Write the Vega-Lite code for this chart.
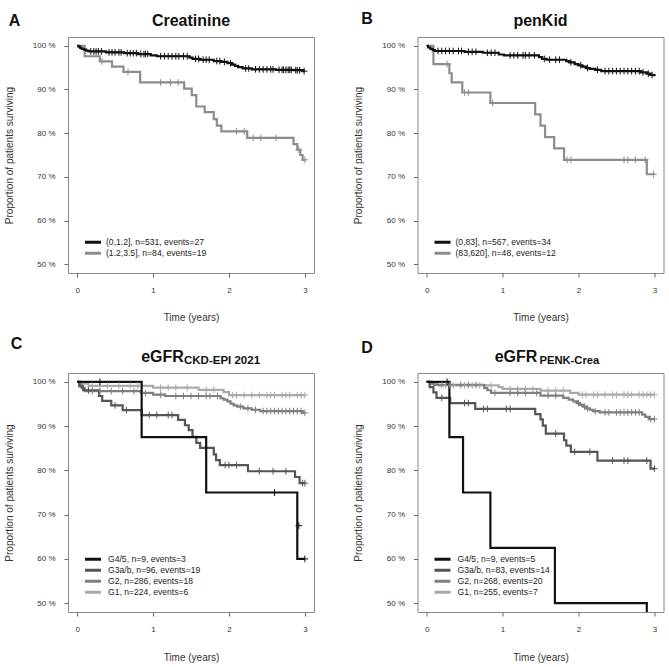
{
"$schema":"https://vega.github.io/schema/vega-lite/v6.json",
"background":"white",
"padding":{"left":3,"top":10,"right":2,"bottom":2},
"config":{
"font":"Liberation Sans",
"view":{"stroke":"#888888","strokeWidth":1},
"axis":{"grid":false,"domain":false,"tickSize":4,"tickColor":"#666666","tickWidth":1,"labelFont":"Liberation Sans","labelFontSize":8,"labelColor":"#333333","labelPadding":9,"titleFont":"Liberation Sans","titleFontSize":10,"titleFontWeight":"normal","titleColor":"#333333","titlePadding":18},
"legend":{"orient":"bottom-left","offset":14,"padding":0,"symbolType":"M-2.5,0H2.5","symbolSize":41,"symbolStrokeWidth":3,"labelFont":"Liberation Sans","labelFontSize":8.6,"labelColor":"#222222","rowPadding":0,"clipHeight":10.3,"labelOffset":8,"symbolOffset":6},
"title":{"font":"Liberation Sans","fontSize":16,"fontWeight":"bold","color":"#111111","baseline":"top"}
},
"datasets":{
"groups":[
{"g":"A1","lab":"(0,1.2], n=531, events=27"},{"g":"A2","lab":"(1.2,3.5], n=84, events=19"},
{"g":"B1","lab":"(0,83], n=567, events=34"},{"g":"B2","lab":"(83,620], n=48, events=12"},
{"g":"C1","lab":"G4/5, n=9, events=3"},{"g":"C2","lab":"G3a/b, n=96, events=19"},{"g":"C3","lab":"G2, n=286, events=18"},{"g":"C4","lab":"G1, n=224, events=6"},
{"g":"D1","lab":"G4/5, n=9, events=5"},{"g":"D2","lab":"G3a/b, n=83, events=14"},{"g":"D3","lab":"G2, n=268, events=20"},{"g":"D4","lab":"G1, n=255, events=7"}
],
"km":[
{"g":"A2","t":0,"s":1},{"g":"A2","t":0.1,"s":0.976},{"g":"A2","t":0.3,"s":0.964},{"g":"A2","t":0.46,"s":0.952},{"g":"A2","t":0.61,"s":0.94},{"g":"A2","t":0.83,"s":0.916},{"g":"A2","t":1.41,"s":0.902},{"g":"A2","t":1.51,"s":0.887},{"g":"A2","t":1.57,"s":0.861},{"g":"A2","t":1.68,"s":0.848},{"g":"A2","t":1.8,"s":0.832},{"g":"A2","t":1.84,"s":0.817},{"g":"A2","t":1.9,"s":0.804},{"g":"A2","t":2.24,"s":0.789},{"g":"A2","t":2.85,"s":0.775},{"g":"A2","t":2.9,"s":0.762},{"g":"A2","t":2.94,"s":0.75},{"g":"A2","t":2.97,"s":0.739},{"g":"A2","t":3.0,"s":0.739},
{"g":"A1","t":0,"s":1},{"g":"A1","t":0.02,"s":0.998},{"g":"A1","t":0.04,"s":0.995},{"g":"A1","t":0.06,"s":0.993},{"g":"A1","t":0.09,"s":0.991},{"g":"A1","t":0.12,"s":0.989},{"g":"A1","t":0.15,"s":0.987},{"g":"A1","t":0.38,"s":0.985},{"g":"A1","t":0.62,"s":0.983},{"g":"A1","t":0.8,"s":0.981},{"g":"A1","t":0.97,"s":0.978},{"g":"A1","t":1.05,"s":0.976},{"g":"A1","t":1.48,"s":0.973},{"g":"A1","t":1.52,"s":0.97},{"g":"A1","t":1.62,"s":0.968},{"g":"A1","t":1.8,"s":0.965},{"g":"A1","t":1.9,"s":0.963},{"g":"A1","t":1.98,"s":0.96},{"g":"A1","t":2.04,"s":0.957},{"g":"A1","t":2.08,"s":0.954},{"g":"A1","t":2.12,"s":0.951},{"g":"A1","t":2.18,"s":0.948},{"g":"A1","t":2.3,"s":0.946},{"g":"A1","t":2.62,"s":0.945},{"g":"A1","t":2.85,"s":0.944},{"g":"A1","t":2.97,"s":0.942},{"g":"A1","t":3.0,"s":0.942},
{"g":"B2","t":0,"s":1},{"g":"B2","t":0.09,"s":0.958},{"g":"B2","t":0.3,"s":0.937},{"g":"B2","t":0.33,"s":0.916},{"g":"B2","t":0.47,"s":0.893},{"g":"B2","t":0.84,"s":0.869},{"g":"B2","t":1.43,"s":0.843},{"g":"B2","t":1.5,"s":0.817},{"g":"B2","t":1.56,"s":0.791},{"g":"B2","t":1.68,"s":0.765},{"g":"B2","t":1.81,"s":0.739},{"g":"B2","t":2.9,"s":0.706},{"g":"B2","t":3.0,"s":0.706},
{"g":"B1","t":0,"s":1},{"g":"B1","t":0.02,"s":0.996},{"g":"B1","t":0.05,"s":0.993},{"g":"B1","t":0.08,"s":0.99},{"g":"B1","t":0.11,"s":0.988},{"g":"B1","t":0.5,"s":0.986},{"g":"B1","t":0.74,"s":0.984},{"g":"B1","t":0.95,"s":0.98},{"g":"B1","t":1.02,"s":0.978},{"g":"B1","t":1.48,"s":0.974},{"g":"B1","t":1.52,"s":0.97},{"g":"B1","t":1.58,"s":0.968},{"g":"B1","t":1.84,"s":0.965},{"g":"B1","t":1.88,"s":0.962},{"g":"B1","t":1.95,"s":0.958},{"g":"B1","t":2.0,"s":0.955},{"g":"B1","t":2.05,"s":0.952},{"g":"B1","t":2.1,"s":0.949},{"g":"B1","t":2.15,"s":0.947},{"g":"B1","t":2.22,"s":0.945},{"g":"B1","t":2.3,"s":0.942},{"g":"B1","t":2.82,"s":0.939},{"g":"B1","t":2.9,"s":0.936},{"g":"B1","t":2.95,"s":0.933},{"g":"B1","t":3.0,"s":0.93},
{"g":"C4","t":0,"s":1},{"g":"C4","t":0.05,"s":0.996},{"g":"C4","t":0.15,"s":0.991},{"g":"C4","t":1.0,"s":0.987},{"g":"C4","t":1.6,"s":0.982},{"g":"C4","t":1.93,"s":0.977},{"g":"C4","t":2.0,"s":0.97},{"g":"C4","t":3.0,"s":0.97},
{"g":"C3","t":0,"s":1},{"g":"C3","t":0.03,"s":0.993},{"g":"C3","t":0.06,"s":0.986},{"g":"C3","t":0.1,"s":0.979},{"g":"C3","t":0.84,"s":0.975},{"g":"C3","t":1.0,"s":0.971},{"g":"C3","t":1.16,"s":0.968},{"g":"C3","t":1.89,"s":0.963},{"g":"C3","t":1.93,"s":0.96},{"g":"C3","t":1.98,"s":0.956},{"g":"C3","t":2.02,"s":0.951},{"g":"C3","t":2.06,"s":0.947},{"g":"C3","t":2.11,"s":0.944},{"g":"C3","t":2.19,"s":0.94},{"g":"C3","t":2.3,"s":0.937},{"g":"C3","t":2.41,"s":0.934},{"g":"C3","t":2.97,"s":0.93},{"g":"C3","t":3.0,"s":0.93},
{"g":"C2","t":0,"s":1},{"g":"C2","t":0.03,"s":0.99},{"g":"C2","t":0.08,"s":0.981},{"g":"C2","t":0.29,"s":0.968},{"g":"C2","t":0.33,"s":0.957},{"g":"C2","t":0.45,"s":0.947},{"g":"C2","t":0.6,"s":0.936},{"g":"C2","t":0.85,"s":0.925},{"g":"C2","t":1.33,"s":0.914},{"g":"C2","t":1.42,"s":0.902},{"g":"C2","t":1.47,"s":0.891},{"g":"C2","t":1.52,"s":0.876},{"g":"C2","t":1.57,"s":0.862},{"g":"C2","t":1.62,"s":0.851},{"g":"C2","t":1.8,"s":0.836},{"g":"C2","t":1.83,"s":0.823},{"g":"C2","t":1.88,"s":0.812},{"g":"C2","t":2.25,"s":0.798},{"g":"C2","t":2.87,"s":0.785},{"g":"C2","t":2.93,"s":0.771},{"g":"C2","t":3.0,"s":0.771},
{"g":"C1","t":0,"s":1},{"g":"C1","t":0.85,"s":0.875},{"g":"C1","t":1.7,"s":0.75},{"g":"C1","t":2.9,"s":0.6},{"g":"C1","t":3.0,"s":0.6},
{"g":"D4","t":0,"s":1},{"g":"D4","t":0.04,"s":0.996},{"g":"D4","t":0.15,"s":0.992},{"g":"D4","t":0.95,"s":0.988},{"g":"D4","t":1.0,"s":0.984},{"g":"D4","t":1.5,"s":0.98},{"g":"D4","t":1.89,"s":0.975},{"g":"D4","t":2.0,"s":0.971},{"g":"D4","t":3.0,"s":0.971},
{"g":"D3","t":0,"s":1},{"g":"D3","t":0.05,"s":0.996},{"g":"D3","t":0.1,"s":0.993},{"g":"D3","t":0.76,"s":0.986},{"g":"D3","t":0.8,"s":0.981},{"g":"D3","t":0.85,"s":0.975},{"g":"D3","t":1.5,"s":0.969},{"g":"D3","t":1.8,"s":0.964},{"g":"D3","t":1.87,"s":0.96},{"g":"D3","t":1.93,"s":0.956},{"g":"D3","t":1.98,"s":0.952},{"g":"D3","t":2.02,"s":0.948},{"g":"D3","t":2.06,"s":0.944},{"g":"D3","t":2.1,"s":0.94},{"g":"D3","t":2.15,"s":0.937},{"g":"D3","t":2.19,"s":0.934},{"g":"D3","t":2.28,"s":0.931},{"g":"D3","t":2.84,"s":0.926},{"g":"D3","t":2.88,"s":0.921},{"g":"D3","t":2.93,"s":0.916},{"g":"D3","t":3.0,"s":0.916},
{"g":"D2","t":0,"s":1},{"g":"D2","t":0.04,"s":0.988},{"g":"D2","t":0.09,"s":0.976},{"g":"D2","t":0.13,"s":0.964},{"g":"D2","t":0.31,"s":0.952},{"g":"D2","t":0.64,"s":0.939},{"g":"D2","t":1.43,"s":0.927},{"g":"D2","t":1.5,"s":0.915},{"g":"D2","t":1.53,"s":0.901},{"g":"D2","t":1.57,"s":0.883},{"g":"D2","t":1.81,"s":0.868},{"g":"D2","t":1.84,"s":0.856},{"g":"D2","t":1.9,"s":0.842},{"g":"D2","t":2.25,"s":0.822},{"g":"D2","t":2.95,"s":0.804},{"g":"D2","t":3.0,"s":0.804},
{"g":"D1","t":0,"s":1},{"g":"D1","t":0.3,"s":0.875},{"g":"D1","t":0.48,"s":0.75},{"g":"D1","t":0.84,"s":0.625},{"g":"D1","t":1.69,"s":0.5},{"g":"D1","t":2.9,"s":0.375},{"g":"D1","t":3.0,"s":0.375}
],
"cz":[
{"g":"A2","t":0.33,"s":0.964},{"g":"A2","t":0.67,"s":0.94},{"g":"A2","t":1.1,"s":0.916},{"g":"A2","t":1.23,"s":0.916},{"g":"A2","t":1.33,"s":0.916},{"g":"A2","t":2.1,"s":0.804},{"g":"A2","t":2.2,"s":0.804},{"g":"A2","t":2.32,"s":0.789},{"g":"A2","t":2.42,"s":0.789},{"g":"A2","t":2.62,"s":0.789},{"g":"A2","t":2.92,"s":0.762},{"g":"A2","t":3.0,"s":0.739},
{"g":"A1","t":0.18,"s":0.987},{"g":"A1","t":0.22,"s":0.987},{"g":"A1","t":0.25,"s":0.987},{"g":"A1","t":0.28,"s":0.987},{"g":"A1","t":0.32,"s":0.987},{"g":"A1","t":0.42,"s":0.985},{"g":"A1","t":0.46,"s":0.985},{"g":"A1","t":0.5,"s":0.985},{"g":"A1","t":0.55,"s":0.985},{"g":"A1","t":0.58,"s":0.985},{"g":"A1","t":0.66,"s":0.983},{"g":"A1","t":0.7,"s":0.983},{"g":"A1","t":0.74,"s":0.983},{"g":"A1","t":0.78,"s":0.983},{"g":"A1","t":0.84,"s":0.981},{"g":"A1","t":0.88,"s":0.981},{"g":"A1","t":0.9,"s":0.981},{"g":"A1","t":0.93,"s":0.981},{"g":"A1","t":1.1,"s":0.976},{"g":"A1","t":1.15,"s":0.976},{"g":"A1","t":1.2,"s":0.976},{"g":"A1","t":1.25,"s":0.976},{"g":"A1","t":1.3,"s":0.976},{"g":"A1","t":1.34,"s":0.976},{"g":"A1","t":1.4,"s":0.976},{"g":"A1","t":1.45,"s":0.976},{"g":"A1","t":1.56,"s":0.97},{"g":"A1","t":1.6,"s":0.97},{"g":"A1","t":1.66,"s":0.968},{"g":"A1","t":1.7,"s":0.968},{"g":"A1","t":1.74,"s":0.968},{"g":"A1","t":1.84,"s":0.965},{"g":"A1","t":1.88,"s":0.965},{"g":"A1","t":1.94,"s":0.963},{"g":"A1","t":2.02,"s":0.96},{"g":"A1","t":2.22,"s":0.948},{"g":"A1","t":2.26,"s":0.948},{"g":"A1","t":2.35,"s":0.946},{"g":"A1","t":2.4,"s":0.946},{"g":"A1","t":2.45,"s":0.946},{"g":"A1","t":2.5,"s":0.946},{"g":"A1","t":2.55,"s":0.946},{"g":"A1","t":2.58,"s":0.946},{"g":"A1","t":2.66,"s":0.945},{"g":"A1","t":2.7,"s":0.945},{"g":"A1","t":2.72,"s":0.945},{"g":"A1","t":2.75,"s":0.945},{"g":"A1","t":2.78,"s":0.945},{"g":"A1","t":2.8,"s":0.945},{"g":"A1","t":2.82,"s":0.945},{"g":"A1","t":2.88,"s":0.944},{"g":"A1","t":2.9,"s":0.944},{"g":"A1","t":2.93,"s":0.944},{"g":"A1","t":2.99,"s":0.942},
{"g":"B2","t":0.27,"s":0.958},{"g":"B2","t":0.5,"s":0.893},{"g":"B2","t":0.55,"s":0.893},{"g":"B2","t":0.87,"s":0.869},{"g":"B2","t":1.85,"s":0.739},{"g":"B2","t":1.9,"s":0.739},{"g":"B2","t":2.6,"s":0.739},{"g":"B2","t":2.65,"s":0.739},{"g":"B2","t":2.75,"s":0.739},{"g":"B2","t":2.88,"s":0.739},{"g":"B2","t":2.99,"s":0.706},
{"g":"B1","t":0.15,"s":0.988},{"g":"B1","t":0.2,"s":0.988},{"g":"B1","t":0.25,"s":0.988},{"g":"B1","t":0.3,"s":0.988},{"g":"B1","t":0.35,"s":0.988},{"g":"B1","t":0.42,"s":0.988},{"g":"B1","t":0.46,"s":0.988},{"g":"B1","t":0.55,"s":0.986},{"g":"B1","t":0.6,"s":0.986},{"g":"B1","t":0.65,"s":0.986},{"g":"B1","t":0.8,"s":0.984},{"g":"B1","t":0.85,"s":0.984},{"g":"B1","t":0.9,"s":0.984},{"g":"B1","t":1.1,"s":0.978},{"g":"B1","t":1.15,"s":0.978},{"g":"B1","t":1.2,"s":0.978},{"g":"B1","t":1.27,"s":0.978},{"g":"B1","t":1.3,"s":0.978},{"g":"B1","t":1.35,"s":0.978},{"g":"B1","t":1.42,"s":0.978},{"g":"B1","t":1.55,"s":0.97},{"g":"B1","t":1.62,"s":0.968},{"g":"B1","t":1.7,"s":0.968},{"g":"B1","t":1.75,"s":0.968},{"g":"B1","t":1.9,"s":0.962},{"g":"B1","t":2.03,"s":0.955},{"g":"B1","t":2.12,"s":0.949},{"g":"B1","t":2.25,"s":0.945},{"g":"B1","t":2.35,"s":0.942},{"g":"B1","t":2.4,"s":0.942},{"g":"B1","t":2.45,"s":0.942},{"g":"B1","t":2.5,"s":0.942},{"g":"B1","t":2.55,"s":0.942},{"g":"B1","t":2.6,"s":0.942},{"g":"B1","t":2.65,"s":0.942},{"g":"B1","t":2.7,"s":0.942},{"g":"B1","t":2.75,"s":0.942},{"g":"B1","t":2.8,"s":0.942},{"g":"B1","t":2.85,"s":0.939},{"g":"B1","t":2.92,"s":0.936},{"g":"B1","t":2.97,"s":0.933},
{"g":"C4","t":0.2,"s":0.991},{"g":"C4","t":0.3,"s":0.991},{"g":"C4","t":0.4,"s":0.991},{"g":"C4","t":0.55,"s":0.991},{"g":"C4","t":0.7,"s":0.991},{"g":"C4","t":0.8,"s":0.991},{"g":"C4","t":1.1,"s":0.987},{"g":"C4","t":1.2,"s":0.987},{"g":"C4","t":1.3,"s":0.987},{"g":"C4","t":1.45,"s":0.987},{"g":"C4","t":1.7,"s":0.982},{"g":"C4","t":1.8,"s":0.982},{"g":"C4","t":2.05,"s":0.97},{"g":"C4","t":2.1,"s":0.97},{"g":"C4","t":2.2,"s":0.97},{"g":"C4","t":2.3,"s":0.97},{"g":"C4","t":2.4,"s":0.97},{"g":"C4","t":2.5,"s":0.97},{"g":"C4","t":2.55,"s":0.97},{"g":"C4","t":2.6,"s":0.97},{"g":"C4","t":2.7,"s":0.97},{"g":"C4","t":2.75,"s":0.97},{"g":"C4","t":2.8,"s":0.97},{"g":"C4","t":2.9,"s":0.97},{"g":"C4","t":2.95,"s":0.97},{"g":"C4","t":3.0,"s":0.97},
{"g":"C3","t":0.2,"s":0.979},{"g":"C3","t":0.3,"s":0.979},{"g":"C3","t":0.45,"s":0.979},{"g":"C3","t":0.6,"s":0.979},{"g":"C3","t":0.75,"s":0.979},{"g":"C3","t":0.9,"s":0.975},{"g":"C3","t":1.1,"s":0.971},{"g":"C3","t":1.3,"s":0.968},{"g":"C3","t":1.4,"s":0.968},{"g":"C3","t":1.5,"s":0.968},{"g":"C3","t":1.6,"s":0.968},{"g":"C3","t":1.7,"s":0.968},{"g":"C3","t":1.75,"s":0.968},{"g":"C3","t":1.85,"s":0.968},{"g":"C3","t":2.15,"s":0.944},{"g":"C3","t":2.25,"s":0.94},{"g":"C3","t":2.35,"s":0.937},{"g":"C3","t":2.45,"s":0.934},{"g":"C3","t":2.5,"s":0.934},{"g":"C3","t":2.55,"s":0.934},{"g":"C3","t":2.6,"s":0.934},{"g":"C3","t":2.65,"s":0.934},{"g":"C3","t":2.7,"s":0.934},{"g":"C3","t":2.75,"s":0.934},{"g":"C3","t":2.8,"s":0.934},{"g":"C3","t":2.85,"s":0.934},{"g":"C3","t":2.9,"s":0.934},{"g":"C3","t":2.95,"s":0.934},{"g":"C3","t":3.0,"s":0.93},
{"g":"C2","t":0.15,"s":0.981},{"g":"C2","t":0.5,"s":0.947},{"g":"C2","t":0.65,"s":0.936},{"g":"C2","t":0.95,"s":0.925},{"g":"C2","t":1.05,"s":0.925},{"g":"C2","t":1.2,"s":0.925},{"g":"C2","t":1.25,"s":0.925},{"g":"C2","t":1.95,"s":0.812},{"g":"C2","t":2.0,"s":0.812},{"g":"C2","t":2.1,"s":0.812},{"g":"C2","t":2.4,"s":0.798},{"g":"C2","t":2.58,"s":0.798},{"g":"C2","t":2.75,"s":0.798},{"g":"C2","t":2.97,"s":0.771},{"g":"C2","t":3.0,"s":0.771},
{"g":"C1","t":0.3,"s":1.0},{"g":"C1","t":2.6,"s":0.75},{"g":"C1","t":2.92,"s":0.675},{"g":"C1","t":3.0,"s":0.6},
{"g":"D4","t":0.25,"s":0.992},{"g":"D4","t":0.35,"s":0.992},{"g":"D4","t":0.5,"s":0.992},{"g":"D4","t":0.6,"s":0.992},{"g":"D4","t":0.7,"s":0.992},{"g":"D4","t":0.85,"s":0.992},{"g":"D4","t":1.1,"s":0.984},{"g":"D4","t":1.2,"s":0.984},{"g":"D4","t":1.3,"s":0.984},{"g":"D4","t":1.4,"s":0.984},{"g":"D4","t":1.6,"s":0.98},{"g":"D4","t":1.7,"s":0.98},{"g":"D4","t":1.8,"s":0.98},{"g":"D4","t":2.05,"s":0.971},{"g":"D4","t":2.1,"s":0.971},{"g":"D4","t":2.2,"s":0.971},{"g":"D4","t":2.25,"s":0.971},{"g":"D4","t":2.35,"s":0.971},{"g":"D4","t":2.45,"s":0.971},{"g":"D4","t":2.5,"s":0.971},{"g":"D4","t":2.6,"s":0.971},{"g":"D4","t":2.65,"s":0.971},{"g":"D4","t":2.7,"s":0.971},{"g":"D4","t":2.8,"s":0.971},{"g":"D4","t":2.85,"s":0.971},{"g":"D4","t":2.9,"s":0.971},{"g":"D4","t":2.95,"s":0.971},{"g":"D4","t":3.0,"s":0.971},
{"g":"D3","t":0.2,"s":0.993},{"g":"D3","t":0.3,"s":0.993},{"g":"D3","t":0.45,"s":0.993},{"g":"D3","t":0.55,"s":0.993},{"g":"D3","t":0.65,"s":0.993},{"g":"D3","t":0.9,"s":0.975},{"g":"D3","t":1.1,"s":0.975},{"g":"D3","t":1.2,"s":0.975},{"g":"D3","t":1.3,"s":0.975},{"g":"D3","t":1.45,"s":0.975},{"g":"D3","t":1.6,"s":0.969},{"g":"D3","t":1.7,"s":0.969},{"g":"D3","t":2.0,"s":0.952},{"g":"D3","t":2.08,"s":0.944},{"g":"D3","t":2.12,"s":0.94},{"g":"D3","t":2.22,"s":0.934},{"g":"D3","t":2.35,"s":0.931},{"g":"D3","t":2.4,"s":0.931},{"g":"D3","t":2.5,"s":0.931},{"g":"D3","t":2.55,"s":0.931},{"g":"D3","t":2.6,"s":0.931},{"g":"D3","t":2.65,"s":0.931},{"g":"D3","t":2.7,"s":0.931},{"g":"D3","t":2.75,"s":0.931},{"g":"D3","t":2.8,"s":0.931},{"g":"D3","t":2.95,"s":0.916},{"g":"D3","t":3.0,"s":0.916},
{"g":"D2","t":0.2,"s":0.964},{"g":"D2","t":0.5,"s":0.952},{"g":"D2","t":0.55,"s":0.952},{"g":"D2","t":0.75,"s":0.939},{"g":"D2","t":0.8,"s":0.939},{"g":"D2","t":1.05,"s":0.939},{"g":"D2","t":1.1,"s":0.939},{"g":"D2","t":1.7,"s":0.883},{"g":"D2","t":1.95,"s":0.842},{"g":"D2","t":2.15,"s":0.842},{"g":"D2","t":2.45,"s":0.822},{"g":"D2","t":2.6,"s":0.822},{"g":"D2","t":2.65,"s":0.822},{"g":"D2","t":2.9,"s":0.822},{"g":"D2","t":3.0,"s":0.804},
{"g":"D1","t":0.27,"s":1.0}
]
},
"resolve":{"scale":{"color":"independent"},"legend":{"color":"independent"}},
"columns":2,
"spacing":{"row":12,"column":37.5},
"concat":[
{
"title":{"text":"A","anchor":"start","frame":"bounds","dx":5,"dy":16,"offset":0},
"resolve":{"scale":{"color":"independent"},"legend":{"color":"independent"}},
"vconcat":[{
"width":246,"height":236,
"title":{"text":"Creatinine","anchor":"middle","frame":"group","offset":7.6},
"layer":[
{"data":{"name":"km"},"transform":[{"filter":"substring(datum.g,0,1)=='A'"},{"lookup":"g","from":{"data":{"name":"groups"},"key":"g","fields":["lab"]}}],
"mark":{"type":"line","interpolate":"step-after","strokeWidth":2.2,"clip":true},
"encoding":{
"x":{"field":"t","type":"quantitative","scale":{"domain":[-0.12,3.12],"nice":false,"zero":false},"axis":{"values":[0,1,2,3],"format":"d","title":"Time (years)"}},
"y":{"field":"s","type":"quantitative","scale":{"domain":[0.48,1.02],"nice":false,"zero":false},"axis":{"values":[0.5,0.6,0.7,0.8,0.9,1],"labelExpr":"round(datum.value*100)+' %'","title":"Proportion of patients surviving"}},
"color":{"field":"lab","type":"nominal","scale":{"domain":["(0,1.2], n=531, events=27","(1.2,3.5], n=84, events=19"],"range":["#111111","#8c8c8c"]},"legend":{"title":null,"symbolSize":41,"clipHeight":10.5,"labelOffset":8}}}},
{"data":{"name":"cz"},"transform":[{"filter":"substring(datum.g,0,1)=='A'"},{"lookup":"g","from":{"data":{"name":"groups"},"key":"g","fields":["lab"]}}],
"mark":{"type":"point","shape":"M-1,0H1M0,-1V1","filled":false,"strokeWidth":1,"size":45,"opacity":1,"clip":true},
"encoding":{"x":{"field":"t","type":"quantitative"},"y":{"field":"s","type":"quantitative"},"color":{"field":"lab","type":"nominal","legend":null}}}
]}]
},
{
"title":{"text":"B","anchor":"start","frame":"bounds","dx":8,"dy":14,"offset":0},
"resolve":{"scale":{"color":"independent"},"legend":{"color":"independent"}},
"vconcat":[{
"width":246,"height":236,
"title":{"text":"penKid","anchor":"middle","frame":"group","offset":7.6},
"layer":[
{"data":{"name":"km"},"transform":[{"filter":"substring(datum.g,0,1)=='B'"},{"lookup":"g","from":{"data":{"name":"groups"},"key":"g","fields":["lab"]}}],
"mark":{"type":"line","interpolate":"step-after","strokeWidth":2.2,"clip":true},
"encoding":{
"x":{"field":"t","type":"quantitative","scale":{"domain":[-0.12,3.12],"nice":false,"zero":false},"axis":{"values":[0,1,2,3],"format":"d","title":"Time (years)"}},
"y":{"field":"s","type":"quantitative","scale":{"domain":[0.48,1.02],"nice":false,"zero":false},"axis":{"values":[0.5,0.6,0.7,0.8,0.9,1],"labelExpr":"round(datum.value*100)+' %'","title":"Proportion of patients surviving"}},
"color":{"field":"lab","type":"nominal","scale":{"domain":["(0,83], n=567, events=34","(83,620], n=48, events=12"],"range":["#111111","#8c8c8c"]},"legend":{"title":null,"symbolSize":41,"clipHeight":10.5,"labelOffset":8}}}},
{"data":{"name":"cz"},"transform":[{"filter":"substring(datum.g,0,1)=='B'"},{"lookup":"g","from":{"data":{"name":"groups"},"key":"g","fields":["lab"]}}],
"mark":{"type":"point","shape":"M-1,0H1M0,-1V1","filled":false,"strokeWidth":1,"size":45,"opacity":1,"clip":true},
"encoding":{"x":{"field":"t","type":"quantitative"},"y":{"field":"s","type":"quantitative"},"color":{"field":"lab","type":"nominal","legend":null}}}
]}]
},
{
"title":{"text":"C","anchor":"start","frame":"bounds","dx":7,"dy":2.7,"offset":0},
"resolve":{"scale":{"color":"independent"},"legend":{"color":"independent"}},
"vconcat":[{
"title":{"text":"eGFR","anchor":"start","frame":"bounds","align":"right","dx":180,"dy":10.5,"offset":0},
"resolve":{"scale":{"color":"independent"},"legend":{"color":"independent"}},
"vconcat":[{
"width":246,"height":239,
"title":{"text":"CKD-EPI 2021","anchor":"start","frame":"group","align":"left","dx":116,"offset":6.4,"fontSize":11.5},
"layer":[
{"data":{"name":"km"},"transform":[{"filter":"substring(datum.g,0,1)=='C'"},{"lookup":"g","from":{"data":{"name":"groups"},"key":"g","fields":["lab"]}}],
"mark":{"type":"line","interpolate":"step-after","strokeWidth":2.2,"clip":true},
"encoding":{
"x":{"field":"t","type":"quantitative","scale":{"domain":[-0.12,3.12],"nice":false,"zero":false},"axis":{"values":[0,1,2,3],"format":"d","title":"Time (years)","titlePadding":19.5}},
"y":{"field":"s","type":"quantitative","scale":{"domain":[0.48,1.02],"nice":false,"zero":false},"axis":{"values":[0.5,0.6,0.7,0.8,0.9,1],"labelExpr":"round(datum.value*100)+' %'","title":"Proportion of patients surviving"}},
"color":{"field":"lab","type":"nominal","scale":{"domain":["G4/5, n=9, events=3","G3a/b, n=96, events=19","G2, n=286, events=18","G1, n=224, events=6"],"range":["#111111","#555555","#7f7f7f","#aaaaaa"]},"legend":{"title":null,"symbolSize":41,"clipHeight":10.3,"labelOffset":10}}}},
{"data":{"name":"cz"},"transform":[{"filter":"substring(datum.g,0,1)=='C'"},{"lookup":"g","from":{"data":{"name":"groups"},"key":"g","fields":["lab"]}}],
"mark":{"type":"point","shape":"M-1,0H1M0,-1V1","filled":false,"strokeWidth":1,"size":45,"opacity":1,"clip":true},
"encoding":{"x":{"field":"t","type":"quantitative"},"y":{"field":"s","type":"quantitative"},"color":{"field":"lab","type":"nominal","legend":null}}}
]}]}]
},
{
"title":{"text":"D","anchor":"start","frame":"bounds","dx":8,"dy":6.4,"offset":0},
"resolve":{"scale":{"color":"independent"},"legend":{"color":"independent"}},
"vconcat":[{
"title":{"text":"eGFR","anchor":"start","frame":"bounds","align":"right","dx":184,"dy":10.5,"offset":0},
"resolve":{"scale":{"color":"independent"},"legend":{"color":"independent"}},
"vconcat":[{
"width":246,"height":239,
"title":{"text":"PENK-Crea","anchor":"start","frame":"group","align":"left","dx":122,"offset":6.4,"fontSize":11.2},
"layer":[
{"data":{"name":"km"},"transform":[{"filter":"substring(datum.g,0,1)=='D'"},{"lookup":"g","from":{"data":{"name":"groups"},"key":"g","fields":["lab"]}}],
"mark":{"type":"line","interpolate":"step-after","strokeWidth":2.2,"clip":true},
"encoding":{
"x":{"field":"t","type":"quantitative","scale":{"domain":[-0.12,3.12],"nice":false,"zero":false},"axis":{"values":[0,1,2,3],"format":"d","title":"Time (years)","titlePadding":19.5}},
"y":{"field":"s","type":"quantitative","scale":{"domain":[0.48,1.02],"nice":false,"zero":false},"axis":{"values":[0.5,0.6,0.7,0.8,0.9,1],"labelExpr":"round(datum.value*100)+' %'","title":"Proportion of patients surviving"}},
"color":{"field":"lab","type":"nominal","scale":{"domain":["G4/5, n=9, events=5","G3a/b, n=83, events=14","G2, n=268, events=20","G1, n=255, events=7"],"range":["#111111","#555555","#7f7f7f","#aaaaaa"]},"legend":{"title":null,"symbolSize":41,"clipHeight":10.3,"labelOffset":10}}}},
{"data":{"name":"cz"},"transform":[{"filter":"substring(datum.g,0,1)=='D'"},{"lookup":"g","from":{"data":{"name":"groups"},"key":"g","fields":["lab"]}}],
"mark":{"type":"point","shape":"M-1,0H1M0,-1V1","filled":false,"strokeWidth":1,"size":45,"opacity":1,"clip":true},
"encoding":{"x":{"field":"t","type":"quantitative"},"y":{"field":"s","type":"quantitative"},"color":{"field":"lab","type":"nominal","legend":null}}}
]}]}]
}
]
}
